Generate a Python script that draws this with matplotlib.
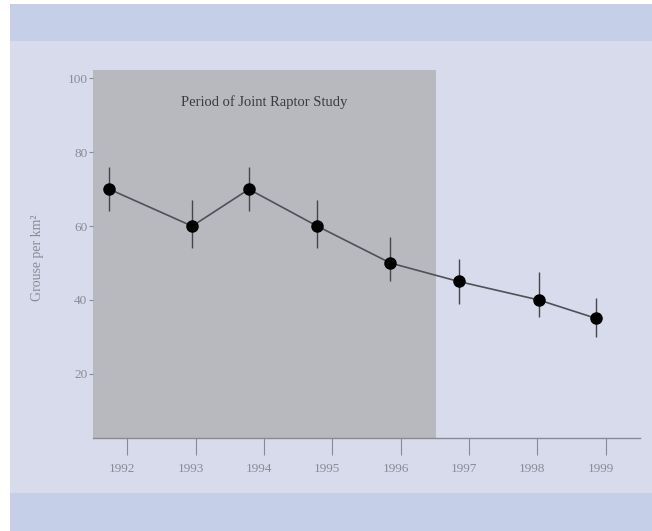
import matplotlib.pyplot as plt
import matplotlib.transforms as mtransforms
from matplotlib.patches import Rectangle

# -------------------------------------------------------------------------
# Data
# -------------------------------------------------------------------------

# survey dates fall a little before each year tick
survey_time = [1991.74, 1992.95, 1993.78, 1994.78, 1995.85, 1996.85, 1998.02, 1998.86]
grouse_density = [70, 60, 70, 60, 50, 45, 40, 35]
err_low = [64, 54, 64, 54, 45, 39, 35.5, 30]
err_high = [76, 67, 76, 67, 57, 51, 47.5, 40.5]

years = [1992, 1993, 1994, 1995, 1996, 1997, 1998, 1999]
y_ticks = [20, 40, 60, 80, 100]

study_start, study_end = 1991.5, 1996.52
study_label = "Period of Joint Raptor Study"

# -------------------------------------------------------------------------
# Colours
# -------------------------------------------------------------------------
BAND = "#c5d0e8"
PANEL = "#d8dbeb"
SHADE = "#b8b9bf"
TEXT = "#8a8b96"

fig = plt.figure(figsize=(6.52, 5.31), dpi=100)
fig.patch.set_facecolor("white")

W, H = 652, 531


def fig_rect(x0, y0, x1, y1, color):
    # pixel coords, origin top-left
    fig.patches.append(Rectangle((x0 / W, 1 - y1 / H), (x1 - x0) / W, (y1 - y0) / H,
                                 transform=fig.transFigure, facecolor=color,
                                 edgecolor="none", zorder=-10))


fig_rect(10, 4, W, 41, BAND)
fig_rect(10, 41, W, 493, PANEL)
fig_rect(10, 493, W, H, BAND)

ax = fig.add_axes([93 / W, 1 - 438 / H, (640 - 93) / W, (438 - 70) / H])
ax.set_facecolor("none")

ax.axvspan(study_start, study_end, color=SHADE, zorder=0, lw=0)
ax.text((study_start + study_end) / 2, 93.5, study_label, ha="center", va="center",
        family="Liberation Serif", fontsize=10.5, color="#3a3a40")

ax.errorbar(survey_time, grouse_density,
            yerr=[[g - lo for g, lo in zip(grouse_density, err_low)],
                  [hi - g for g, hi in zip(grouse_density, err_high)]],
            fmt="none", ecolor="#45454c", elinewidth=1.0, capsize=0, zorder=2)
ax.plot(survey_time, grouse_density, color="#505058", lw=1.2, zorder=3)
ax.plot(survey_time, grouse_density, "o", color="black", ms=8, zorder=4)

ax.set_xlim(1991.5, 1999.5)
ax.set_ylim(2.6, 102.3)

ax.set_xticks(years)
ax.set_xticklabels([str(y) for y in years])
ax.set_yticks(y_ticks)
ax.set_yticklabels([str(v) for v in y_ticks])

for side in ["top", "right", "left"]:
    ax.spines[side].set_visible(False)
ax.spines["bottom"].set_color("#8a8a94")
ax.spines["bottom"].set_linewidth(1.0)

ax.tick_params(axis="x", direction="out", length=12, width=0.8, color="#8a8a94",
               pad=6, labelsize=9.5, labelcolor=TEXT)
ax.tick_params(axis="y", direction="out", length=3, width=0.8, color="#8a8a94",
               pad=1, labelsize=9.5, labelcolor=TEXT)
for lab in ax.get_xticklabels() + ax.get_yticklabels():
    lab.set_family("Liberation Serif")

# year labels sit slightly left of their ticks
shift = mtransforms.ScaledTranslation(-5 / 100, 0, fig.dpi_scale_trans)
for lab in ax.get_xticklabels():
    lab.set_transform(lab.get_transform() + shift)

fig.text(38 / W, 1 - 258 / H, "Grouse per km²", rotation=90, ha="center", va="center",
         family="Liberation Serif", fontsize=10, color=TEXT)

fig.savefig("out.png", dpi=100)
